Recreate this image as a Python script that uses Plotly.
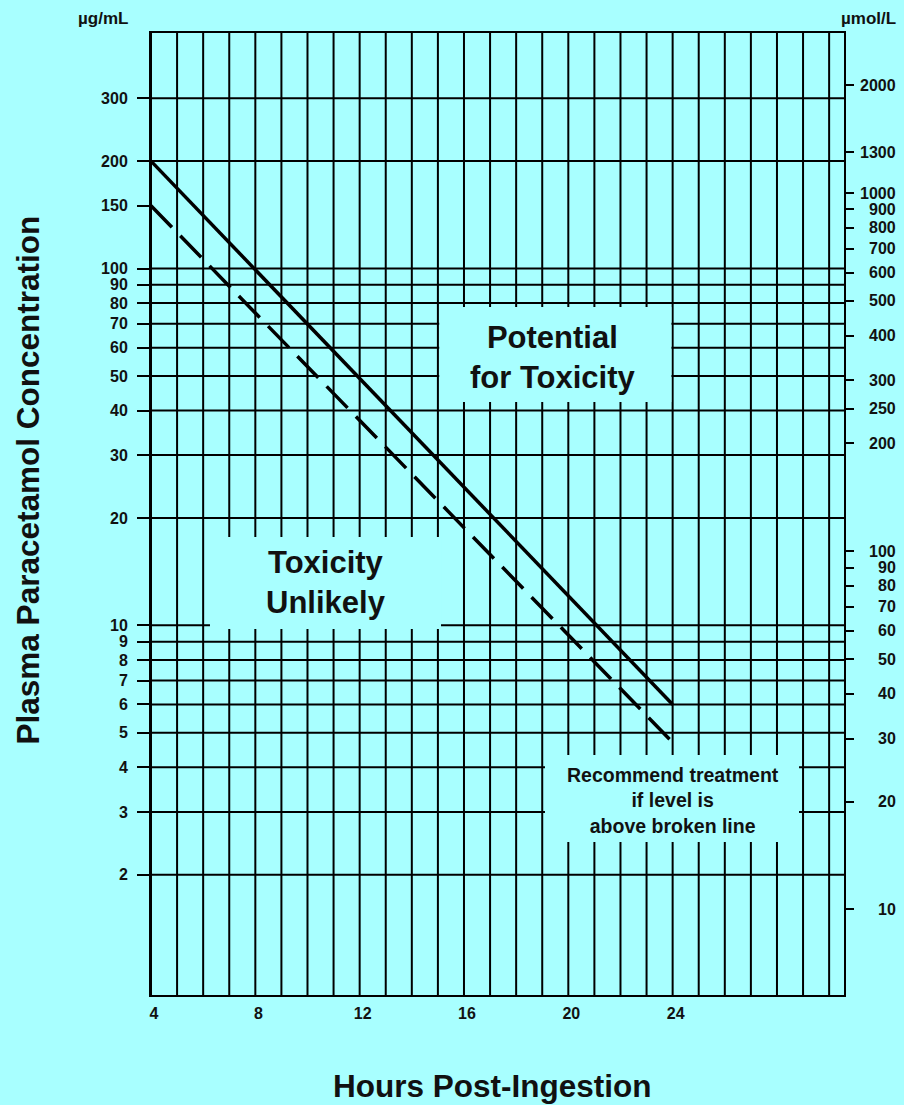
import math
import plotly.graph_objects as go

# ---------------- data ----------------
hours_grid = list(range(4, 31))
hour_labels = [4, 8, 12, 16, 20, 24]

conc_labels = [300, 200, 150, 100, 90, 80, 70, 60, 50, 40, 30, 20,
               10, 9, 8, 7, 6, 5, 4, 3, 2]
conc_grid = [300, 200, 100, 90, 80, 70, 60, 50, 40, 30, 20,
             10, 9, 8, 7, 6, 5, 4, 3, 2]
umol_labels = [2000, 1300, 1000, 900, 800, 700, 600, 500, 400, 300, 250, 200,
               100, 90, 80, 70, 60, 50, 40, 30, 20, 10]

line_hours = [4, 24]
probable_line = [200, 6.0]      # solid line
treatment_line = [150, 4.7]     # broken (treatment) line

# ---------------- style ----------------
BG = "#A8FFFF"
INK = "#111111"
FONT = "Liberation Sans, Arial, sans-serif"
TICK_SIZE = 16

fig = go.Figure()

fig.add_trace(go.Scatter(
    x=line_hours, y=probable_line, mode="lines",
    line=dict(color="black", width=3.5), hoverinfo="skip", showlegend=False))
fig.add_trace(go.Scatter(
    x=line_hours, y=treatment_line, mode="lines",
    line=dict(color="black", width=3.5, dash="30px,12px"),
    hoverinfo="skip", showlegend=False))
# invisible trace so the right-hand (µmol/L) axis is drawn
fig.add_trace(go.Scatter(
    x=[line_hours[0], line_hours[0]], y=[umol_labels[-1], umol_labels[0]],
    yaxis="y2", mode="markers", marker=dict(opacity=0),
    hoverinfo="skip", showlegend=False))

shapes = []
# grid: horizontal lines at the concentration values, vertical lines every hour
for v in conc_grid:
    shapes.append(dict(type="line", xref="paper", x0=0, x1=1, yref="y", y0=v, y1=v,
                       line=dict(color="black", width=2), layer="below"))
for h in hours_grid:
    shapes.append(dict(type="line", xref="x", x0=h, x1=h, yref="paper", y0=0, y1=1,
                       line=dict(color="black", width=2), layer="below"))

# background boxes behind the region labels (hide the grid)
boxes = [
    (0.4159, 0.7509, 0.6164, 0.7152),   # Potential for Toxicity
    (0.0851, 0.4185, 0.3805, 0.4761),   # Toxicity Unlikely
    (0.5685, 0.9351, 0.1590, 0.2495),   # Recommend treatment
]
for x0, x1, y0, y1 in boxes:
    shapes.append(dict(type="rect", xref="paper", yref="paper", x0=x0, x1=x1, y0=y0, y1=y1,
                       fillcolor=BG, line=dict(width=0), layer="below"))

annotations = []
for v in umol_labels:
    annotations.append(dict(x=1.0779, xref="paper", xanchor="right",
                            y=math.log10(v), yref="y2", yanchor="middle",
                            text=str(v), showarrow=False,
                            font=dict(family=FONT, size=TICK_SIZE, color=INK, weight="bold")))

def label(text, x, y, size, angle=0, xanchor="center"):
    annotations.append(dict(x=x, y=y, xref="paper", yref="paper", text=text,
                            showarrow=False, xanchor=xanchor, yanchor="middle",
                            textangle=angle,
                            font=dict(family=FONT, size=size, color=INK, weight="bold")))

label("µg/mL", -0.0303, 1.0146, 17, xanchor="right")
label("µmol/L", 1.0779, 1.0146, 17, xanchor="right")
label("Potential<br>for Toxicity", 0.580, 0.6622, 31)
label("Toxicity<br>Unlikely", 0.2525, 0.4283, 31)
label("Recommend treatment<br>if level is<br>above broken line", 0.7532, 0.2027, 19.5)
label("Plasma Paracetamol Concentration", -0.1775, 0.5359, 31.5, angle=-90)
label("Hours Post-Ingestion", 0.4935, -0.0946, 31.5)

fig.update_layout(
    width=904, height=1105,
    margin=dict(l=151, r=60, t=33, b=110),
    paper_bgcolor=BG, plot_bgcolor=BG,
    showlegend=False,
    font=dict(family=FONT, color=INK),
    shapes=shapes, annotations=annotations,
    xaxis=dict(
        range=[4, 30.57], tickmode="array", tickvals=hours_grid,
        ticktext=[str(h) if h in hour_labels else "" for h in hours_grid],
        showgrid=False,
        ticks="", showline=True, linecolor="black", linewidth=2, mirror=True,
        zeroline=False, ticklabelstandoff=3, ticklabelshift=3,
        tickfont=dict(family=FONT, size=TICK_SIZE, color=INK, weight="bold"),
    ),
    yaxis=dict(
        type="log", range=[-0.036, 2.660], tickmode="array",
        tickvals=conc_labels, ticktext=[str(v) for v in conc_labels],
        showgrid=False, ticks="outside", ticklen=12, tickwidth=2, tickcolor="black",
        showline=True, linecolor="black", linewidth=2, mirror=True,
        zeroline=False, ticklabelstandoff=6,
        tickfont=dict(family=FONT, size=TICK_SIZE, color=INK, weight="bold"),
    ),
    yaxis2=dict(
        type="log", overlaying="y", side="right", range=[0.761, 3.447],
        tickmode="array", tickvals=umol_labels, showticklabels=False,
        ticks="outside", ticklen=9, tickwidth=2, tickcolor="black",
        showgrid=False, showline=False, zeroline=False,
    ),
)

fig.write_html(
    "out.html",
    config={"displayModeBar": False},
    post_script="document.body.style.margin='0';document.body.style.overflow='hidden';"
                "document.documentElement.style.overflow='hidden';",
)
